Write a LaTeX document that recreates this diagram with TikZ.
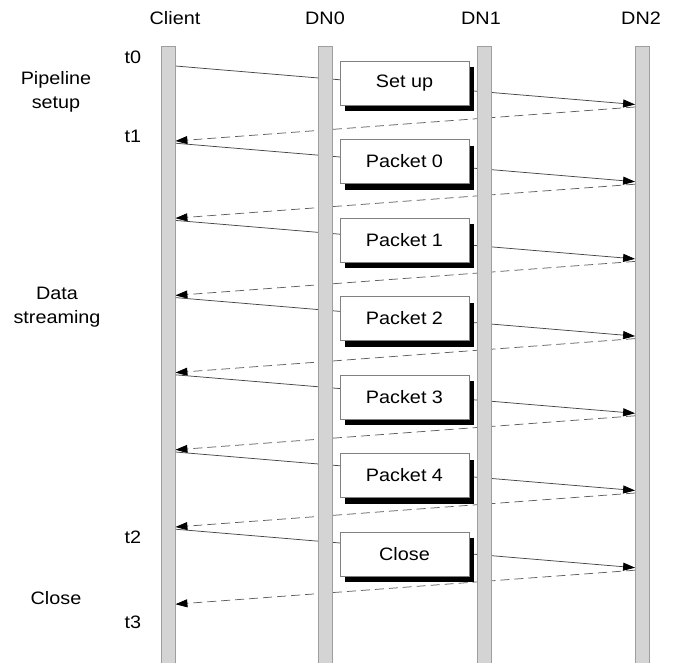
\documentclass[tikz,border=0pt]{standalone}
\usepackage{fontspec}
\setmainfont{Liberation Sans}[FakeStretch=1.1]
\usetikzlibrary{arrows.meta,shadows,backgrounds}
\begin{document}
\begin{tikzpicture}[x=1pt,y=-1pt,
  lifeline/.style={draw=black!38, fill=black!17, minimum width=14pt, minimum height=618pt, inner sep=0pt, line width=0.8pt},
  msgbox/.style={draw=black!50, fill=white, minimum width=129pt, minimum height=44pt, inner sep=0pt, line width=0.8pt, font=\fontsize{18}{20}\selectfont, drop shadow={shadow xshift=5pt, shadow yshift=-6pt, fill=black, opacity=1}},
  lbl/.style={font=\fontsize{18}{24}\selectfont, align=center, inner sep=0pt},
  req/.style={draw=black!72, line width=0.75pt, -{Triangle[length=12pt,width=8pt,color=black]}},
  ack/.style={draw=black!62, line width=0.75pt, dash pattern=on 9pt off 5pt, -{Triangle[length=12pt,width=8pt,color=black]}}
]
\useasboundingbox (0,0) rectangle (674,662);

% lifelines
\node[lifeline] (client) at (168,355) {};
\node[lifeline] (dn0) at (325.5,355) {};
\node[lifeline] (dn1) at (484.5,355) {};
\node[lifeline] (dn2) at (642.5,355) {};

% headers
\node[lbl] (hclient) at (175,18) {Client};
\node[lbl] (hdn0) at (325,18) {DN0};
\node[lbl] (hdn1) at (481,18) {DN1};
\node[lbl] (hdn2) at (641,18) {DN2};

% time marks
\node[lbl] (t0) at (133,57) {t0};
\node[lbl] (t1) at (133,136) {t1};
\node[lbl] (t2) at (133,537) {t2};
\node[lbl] (t3) at (133,622) {t3};

% phase labels
\node[lbl] (phsetup) at (56,92) {Pipeline\\setup};
\node[lbl] (phdata) at (57,307) {Data\\streaming};
\node[lbl] (phclose) at (56,598) {Close};

% boxes
\foreach \k/\txt in {0/Set up,1/Packet 0,2/Packet 1,3/Packet 2,4/Packet 3,5/Packet 4,6/Close}{
  \pgfmathsetmacro{\b}{83+78.5*\k}
  \node[msgbox] (box\k) at (404.5,\b) {\txt};
}

% messages
\begin{pgfonlayer}{background}
\foreach \k in {0,...,6}{
  \pgfmathsetmacro{\s}{66+77.2*\k}
  \pgfmathsetmacro{\e}{\s+38.5}
  \pgfmathsetmacro{\ds}{\s+41}
  \pgfmathsetmacro{\de}{\s+75}
  \coordinate (rs\k) at (client.east |- 0,\s);
  \coordinate (re\k) at (dn2.west |- 0,\e);
  \coordinate (as\k) at (dn2.west |- 0,\ds);
  \coordinate (ae\k) at (client.east |- 0,\de);
  \draw[req] (rs\k) -- (re\k);
  \draw[ack] (as\k) -- (ae\k);
}
\end{pgfonlayer}
\end{tikzpicture}
\end{document}
